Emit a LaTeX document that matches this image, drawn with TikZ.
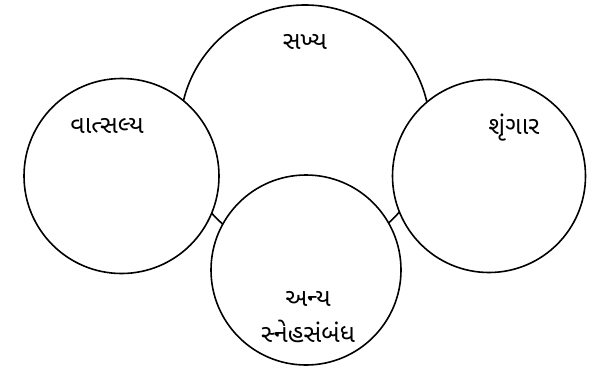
\documentclass[tikz,border=0pt]{standalone}
\usepackage{fontspec}
\newfontfamily\gujfont[Script=Gujarati]{Noto Sans Gujarati UI}
\begin{document}
\begin{tikzpicture}[x=1pt,y=-1pt,
  ring/.style={circle,draw=black,line width=1.6pt,fill=white,inner sep=0pt},
  lbl/.style={font=\gujfont\fontsize{25}{30}\selectfont,inner sep=0pt,align=center}]
\fill[white] (0,0) rectangle (596,367);
\useasboundingbox (0,0) rectangle (596,367);
\node[ring,minimum size=250pt] (sakhya) at (305,130) {};
\node[ring,minimum size=195pt] (vats) at (121.5,176) {};
\node[ring,minimum size=193pt] (shr) at (489,176) {};
\node[ring,minimum size=190pt] (anya) at (306,270) {};
\node[lbl] (t1) at (305,42) {સખ્ય};
\node[lbl] (t2) at (107,126) {વાત્સલ્ય};
\node[lbl] (t3) at (514,128) {શૃંગાર};
\node[lbl] (t4) at (308,317) {અન્ય\\[6pt]સ્નેહસંબંધ};
\end{tikzpicture}
\end{document}
